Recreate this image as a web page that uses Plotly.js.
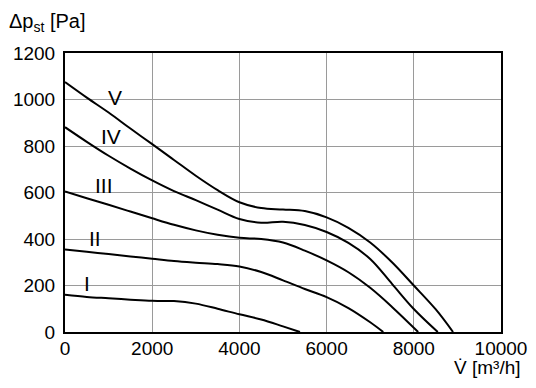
<!DOCTYPE html>
<html>
<head>
<meta charset="utf-8">
<script src="https://cdn.plot.ly/plotly-3.0.1.min.js"></script>
<style>html,body{margin:0;padding:0;background:#fff;}#chart{width:536px;height:388px;}
#chart svg text{font-stretch:condensed;}</style>
</head>
<body>
<div id="chart"></div>
<script>
// Fan curves: volume flow [m3/h] vs static pressure [Pa]
const curveNames = ["I", "II", "III", "IV", "V"];

const flowI  = [0, 500, 1000, 1500, 2000, 2500, 3000, 3500, 4000, 4500, 5000, 5390];
const pressI = [160, 151, 145, 139, 134, 133, 122, 100, 76, 54, 24, 0];

const flowII  = [0, 500, 1000, 1500, 2000, 2500, 3000, 3500, 4000, 4500, 5000, 5500, 6000, 6500, 7000, 7300];
const pressII = [355, 345, 335, 325, 315, 305, 298, 292, 282, 258, 222, 185, 150, 103, 42, 0];

const flowIII  = [0, 500, 1000, 1500, 2000, 2500, 3000, 3500, 4000, 4500, 5000, 5500, 6000, 6500, 7000, 7500, 8100];
const pressIII = [604, 575, 547, 518, 489, 461, 437, 418, 405, 400, 385, 350, 308, 257, 190, 108, 0];

const flowIV  = [0, 500, 1000, 1500, 2000, 2500, 3000, 3500, 4000, 4500, 5000, 5500, 6000, 6500, 7000, 7500, 8000, 8550];
const pressIV = [881, 818, 758, 703, 652, 606, 567, 526, 486, 470, 474, 460, 430, 383, 314, 207, 99, 0];

const flowV  = [0, 500, 1000, 1500, 2000, 2500, 3000, 3500, 4000, 4500, 5000, 5500, 6000, 6500, 7000, 7500, 8000, 8500, 8900];
const pressV = [1075, 1008, 944, 875, 808, 740, 672, 610, 558, 533, 527, 520, 493, 448, 385, 300, 200, 98, 0];

// Curve label anchor positions (data coordinates)
const labelX = [496, 687, 886, 1061, 1153];
const labelY = [207, 404, 629, 840, 1007];

const xTicks = [0, 2000, 4000, 6000, 8000, 10000];
const yTicks = [0, 200, 400, 600, 800, 1000, 1200];

const FONT = '"Liberation Sans", Arial, sans-serif';

const series = [
  [flowI, pressI], [flowII, pressII], [flowIII, pressIII], [flowIV, pressIV], [flowV, pressV]
];

const traces = series.map((s, i) => ({
  x: s[0], y: s[1], name: curveNames[i], type: 'scatter', mode: 'lines',
  line: {color: '#000', width: 2, shape: 'spline', smoothing: 1},
  hoverinfo: 'skip'
}));

const annotations = curveNames.map((n, i) => ({
  x: labelX[i], y: labelY[i], xref: 'x', yref: 'y', text: n, showarrow: false,
  font: {family: FONT, size: 21, color: '#000'}, xanchor: 'center', yanchor: 'middle'
}));

annotations.push({
  xref: 'paper', yref: 'paper', x: -0.133, y: 1.11, xanchor: 'left', yanchor: 'middle',
  text: 'Δp<sub>st</sub> [Pa]', showarrow: false,
  font: {family: FONT, size: 20, color: '#000'}
});
annotations.push({
  xref: 'paper', yref: 'paper', x: 1.05, y: -0.128, xanchor: 'right', yanchor: 'middle',
  text: 'V\u0307 [m\u00B3/h]', showarrow: false,
  font: {family: FONT, size: 19, color: '#000'}
});

const layout = {
  width: 536, height: 388,
  margin: {l: 65, r: 35, t: 53, b: 56},
  paper_bgcolor: '#fff', plot_bgcolor: '#fff',
  showlegend: false,
  font: {family: FONT, size: 19, color: '#000'},
  xaxis: {
    range: [0, 10000], tickvals: xTicks, ticktext: xTicks.map(String),
    showgrid: true, gridcolor: '#9a9a9a', gridwidth: 1,
    showline: true, linecolor: '#000', linewidth: 2, mirror: true,
    ticks: '', zeroline: false, fixedrange: true, ticklabelstandoff: -2,
    tickfont: {family: FONT, size: 19, color: '#000'}
  },
  yaxis: {
    range: [0, 1200], tickvals: yTicks, ticktext: yTicks.map(String),
    showgrid: true, gridcolor: '#9a9a9a', gridwidth: 1,
    showline: true, linecolor: '#000', linewidth: 2, mirror: true,
    ticks: '', zeroline: false, fixedrange: true, ticklabelstandoff: 4,
    tickfont: {family: FONT, size: 19, color: '#000'}
  },
  annotations: annotations
};

Plotly.newPlot('chart', traces, layout, {staticPlot: true, displayModeBar: false});
</script>
</body>
</html>
